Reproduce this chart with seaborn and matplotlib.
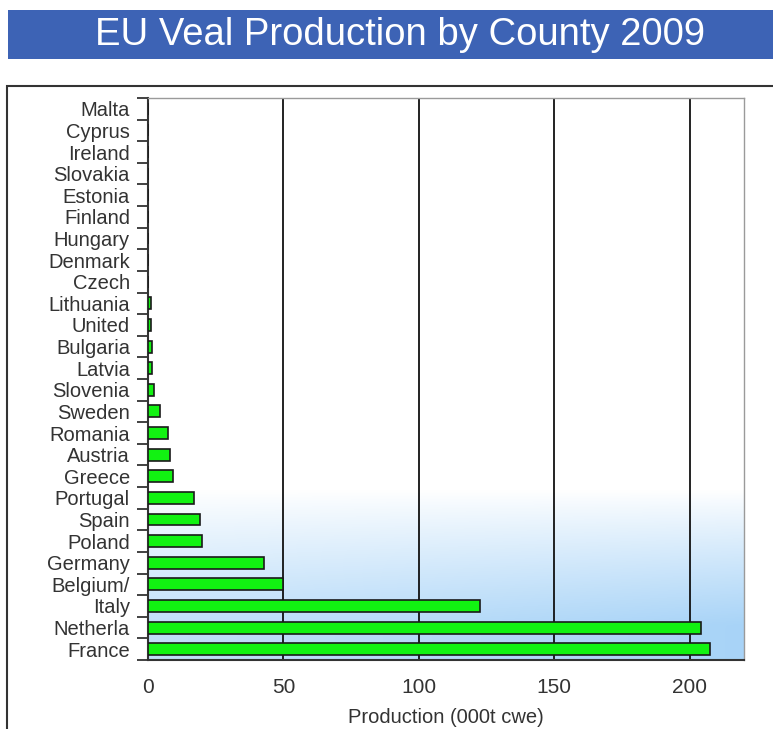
import numpy as np
import pandas as pd
import matplotlib
matplotlib.use("Agg")
import matplotlib.pyplot as plt
from matplotlib.patches import Rectangle
from matplotlib.ticker import FixedLocator
import seaborn as sns

countries = ["Malta", "Cyprus", "Ireland", "Slovakia", "Estonia", "Finland",
             "Hungary", "Denmark", "Czech", "Lithuania", "United", "Bulgaria",
             "Latvia", "Slovenia", "Sweden", "Romania", "Austria", "Greece",
             "Portugal", "Spain", "Poland", "Germany", "Belgium/", "Italy",
             "Netherla", "France"]
production = [0.0, 0.0, 0.0, 0.0, 0.0, 0.0,
              0.0, 0.0, 0.0, 1.0, 1.0, 1.5,
              1.5, 2.2, 4.4, 7.4, 8.1, 9.2,
              17.0, 19.2, 20.0, 42.9, 50.0, 122.7,
              204.0, 207.3]
x_ticks = [0, 50, 100, 150, 200]
title = "EU Veal Production by County 2009"
x_label = "Production (000t cwe)"

df = pd.DataFrame({"country": countries, "production": production})

sns.set_style("white")
plt.rcParams["font.family"] = ["Liberation Sans", "DejaVu Sans"]

W, H = 773, 729
fig = plt.figure(figsize=(W / 100, H / 100), dpi=100)
fig.patch.set_facecolor("white")

# Title banner
fig.patches.append(Rectangle((8 / W, 1 - 59 / H), (W - 8) / W, 49 / H,
                             transform=fig.transFigure, facecolor="#3d63b5",
                             edgecolor="none", zorder=0))
fig.text(400 / W, 1 - 35 / H, title, color="white", fontsize=27.5,
         ha="center", va="center")

# Outer chart frame
fig.patches.append(Rectangle((7 / W, -0.01), (W + 10) / W, 1.01 - 86 / H,
                             transform=fig.transFigure, facecolor="none",
                             edgecolor="#333333", linewidth=1.5, zorder=0))

ax = fig.add_axes([148 / W, 1 - 660 / H, (744 - 148) / W, (660 - 98) / H])

# Soft blue gradient in lower part of plot area
ny, nx = 200, 200
yy = np.linspace(0, 1, ny)[:, None]          # 0 top, 1 bottom
xx = np.linspace(0, 1, nx)[None, :]
t = np.clip((yy - 0.70) / 0.24, 0, 1) ** 0.9
t = t * (0.72 + 0.28 * xx)
white = np.array([1.0, 1.0, 1.0])
blue = np.array([0.66, 0.83, 0.97])
img = white[None, None, :] * (1 - t[..., None]) + blue[None, None, :] * t[..., None]
n = len(countries)
ax.imshow(img, extent=[0, 220, n - 0.5, -0.5], aspect="auto", zorder=0,
          interpolation="bilinear")

sns.barplot(data=df, x="production", y="country", order=countries,
            orient="h", color="#12f212", saturation=1, width=0.55,
            edgecolor="#1a1a1a", linewidth=1.2, ax=ax, zorder=3)

ax.set_xlim(0, 220)
ax.set_ylim(n - 0.5, -0.5)

for v in x_ticks[1:]:
    ax.axvline(v, color="#111111", linewidth=1.3, zorder=2)

ax.set_xticks(x_ticks)
ax.set_xticklabels([str(v) for v in x_ticks], fontsize=15, color="#333333")
ax.tick_params(axis="x", length=6, width=1.3, color="#333333", pad=7,
               direction="out")

ax.set_yticks(range(n))
ax.set_yticklabels(countries, fontsize=14.5, color="#333333")
ax.tick_params(axis="y", which="major", length=0, pad=13)
ax.yaxis.set_minor_locator(FixedLocator(np.arange(-0.5, n, 1.0)))
ax.tick_params(axis="y", which="minor", length=8, width=1.3, color="#333333",
               direction="out", left=True)

ax.set_ylabel("")
ax.set_xlabel(x_label, fontsize=14.5, color="#333333", labelpad=8)

for side in ["left", "bottom"]:
    ax.spines[side].set_color("#333333")
    ax.spines[side].set_linewidth(1.5)
for side in ["top", "right"]:
    ax.spines[side].set_visible(True)
    ax.spines[side].set_color("#9a9a9a")
    ax.spines[side].set_linewidth(1.0)

fig.savefig("out.png", dpi=100)
